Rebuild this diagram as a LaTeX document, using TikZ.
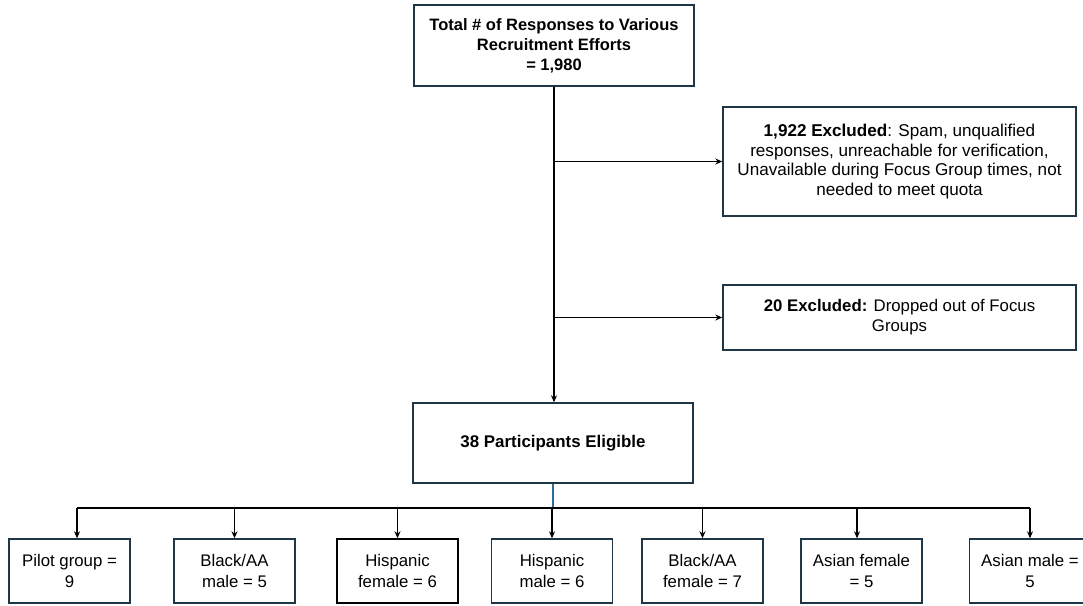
\documentclass[tikz,border=0pt]{standalone}
\usepackage{fontspec}
\setmainfont{Liberation Sans}
\usetikzlibrary{arrows.meta}
\definecolor{boxline}{HTML}{1F3646}
\definecolor{bluel}{HTML}{2E6E96}
\tikzset{
  box/.style={draw=boxline, line width=1.4pt, align=center, inner sep=0pt},
  small/.style={box, minimum width=121pt, minimum height=64pt, font=\fontsize{16.8}{21}\selectfont},
  conn/.style={line width=1.3pt, black},
  arr/.style={conn, -{Stealth[length=7pt,width=6pt]}}
}
\begin{document}
\begin{tikzpicture}[x=1pt,y=-1pt]
\useasboundingbox (0,0) rectangle (1083,605);
\node[box, minimum width=280pt, minimum height=81pt, font=\bfseries\fontsize{16.5}{19.8}\selectfont] (top) at (554,45.5)
  {Total \# of Responses to Various\\Recruitment Efforts\\= 1,980};
\node[box, minimum width=353pt, minimum height=109pt, font=\fontsize{17.1}{19.4}\selectfont] (ex1) at (899.5,161.5)
  {\textbf{1,922 Excluded}: Spam, unqualified\\responses, unreachable for verification,\\Unavailable during Focus Group times, not\\needed to meet quota};
\node[box, minimum width=353pt, minimum height=65pt, font=\fontsize{16.8}{20}\selectfont] (ex2) at (899.5,317.5)
  {\textbf{20 Excluded:} Dropped out of Focus\\Groups};
\node[box, minimum width=280pt, minimum height=80pt, font=\bfseries\fontsize{16.9}{20}\selectfont] (p38) at (553,443)
  {38 Participants Eligible};
\node[small] (g1) at (69.5,571) {Pilot group =\\9};
\node[small] (g2) at (234.5,571) {Black/AA\\male = 5};
\node[small, draw=black] (g3) at (397.5,571) {Hispanic\\female = 6};
\node[small] (g4) at (552,571) {Hispanic\\male = 6};
\node[small] (g5) at (702.5,571) {Black/AA\\female = 7};
\node[small] (g6) at (861.5,571) {Asian female\\= 5};
\node[small] (g7) at (1030,571) {Asian male =\\5};
% main spine
\draw[arr] (top.south) -- (top.south |- p38.north);
\draw[arr] (top.south |- ex1.west) -- (ex1.west);
\draw[arr] (top.south |- ex2.west) -- (ex2.west);
% bottom distribution
\coordinate (a1) at (77,508);
\coordinate (a6) at (857,508);
\coordinate (a7) at (1030,508);
\draw[line width=1.2pt, bluel] (p38.south) -- (p38.south |- a1);
\draw[conn] (a1) -- (a7);
\draw[arr] (a1) -- (a1 |- g1.north);
\draw[arr] (g2.north |- a1) -- (g2.north);
\draw[arr] (g3.north |- a1) -- (g3.north);
\draw[arr] (g4.north |- a1) -- (g4.north);
\draw[arr] (g5.north |- a1) -- (g5.north);
\draw[arr] (a6) -- (a6 |- g6.north);
\draw[arr] (a7) -- (g7.north);
\end{tikzpicture}
\end{document}
